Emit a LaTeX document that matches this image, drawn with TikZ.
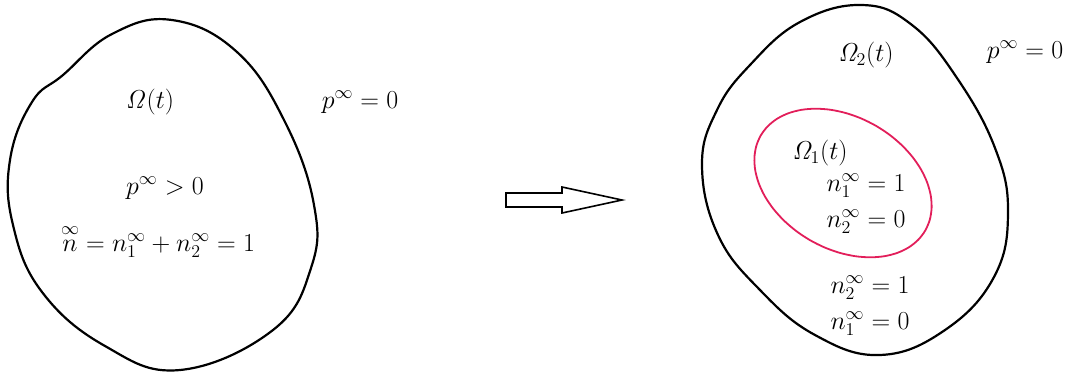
\documentclass[tikz,border=0pt]{standalone}
\usepackage{amsmath}
\definecolor{pinkline}{RGB}{226,30,90}
\tikzset{
  blob/.style={line width=2.2pt, black},
  inner/.style={line width=1.8pt, pinkline},
  lab/.style={font=\LARGE, scale=1.5, transform shape, inner sep=0pt},
  bigarrow/.style={line width=1.6pt, black, fill=white}
}
\begin{document}
\begin{tikzpicture}[x=1pt,y=-1pt]
\useasboundingbox (0,0) rectangle (1071,376);
% left blob
\draw[blob] plot[smooth cycle, tension=0.7] coordinates {
 (10,160) (32,102) (63,75) (112,34) (172,20) (237,52) (285,122) (314,205)
 (311,268) (273,330) (180,370) (105,346) (42,292) (13,225)};
% right blob
\draw[blob] plot[smooth cycle, tension=0.7] coordinates {
 (702,165) (717,110) (750,65) (800,22) (862,5) (912,25) (957,78) (995,148)
 (1008,212) (994,277) (945,330) (880,355) (815,335) (760,290) (718,235)};
% inner ellipse
\draw[inner] plot[smooth cycle, domain=0:350, samples=36, variable=\t]
 ({843+95*cos(\t)*cos(30)-66*sin(\t)*sin(30)},{183+95*cos(\t)*sin(30)+66*sin(\t)*cos(30)});
% block arrow
\coordinate (arrowtail) at (506,200);
\coordinate (arrowtip) at (622,200);
\draw[bigarrow,line join=miter] (arrowtail) ++(0,-7) -- ++(56,0) -- ++(0,-6) -- (arrowtip)
  -- (562,213) -- ++(0,-6) -- ++(-56,0) -- cycle;
% labels left
\node[lab] (om) at (150,102) {$\mathit{\Omega}(t)$};
\node[lab] (p0l) at (360,102) {$p^{\infty}=0$};
\node[lab] (ppos) at (165,188) {$p^{\infty}>0$};
\node[lab] (nsum) at (158,241) {$\overset{\infty}{n}=n_1^{\infty}+n_2^{\infty}=1$};
% labels right
\node[lab] (om2) at (866,55) {$\mathit{\Omega}_2(t)$};
\node[lab] (p0r) at (1025,52) {$p^{\infty}=0$};
\node[lab] (om1) at (820,153) {$\mathit{\Omega}_1(t)$};
\node[lab] (a1) at (866,186) {$n_1^{\infty}=1$};
\node[lab] (a2) at (866,222) {$n_2^{\infty}=0$};
\node[lab] (b1) at (870,288) {$n_2^{\infty}=1$};
\node[lab] (b2) at (870,324) {$n_1^{\infty}=0$};
\end{tikzpicture}
\end{document}
